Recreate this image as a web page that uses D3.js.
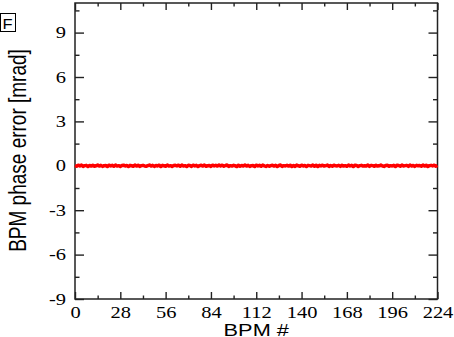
<!DOCTYPE html>
<html>
<head>
<meta charset="utf-8">
<script src="https://cdn.jsdelivr.net/npm/d3@7"></script>
<style>
  body { margin: 0; background: #fff; }
  svg { display: block; }
  .tick-label { font-family: "Liberation Serif", "Times New Roman", serif; font-size: 16px; fill: #000; }
  .sans { font-family: "Liberation Sans", Arial, Helvetica, sans-serif; fill: #000; }
</style>
</head>
<body>
<svg id="chart" width="454" height="337"></svg>
<script>
// Phase error per BPM [mrad], BPM # 0..224
const phaseError = [
  0.02,-0.03,0.04,-0.01,0.05,-0.04,0.01,0.03,-0.05,0.02,-0.02,0.04,-0.03,0.00,0.05,
  -0.02,0.03,-0.04,0.01,0.02,-0.05,0.04,-0.01,0.03,-0.03,0.05,-0.02,0.01,-0.04,0.02,
  0.04,-0.01,0.02,-0.05,0.03,0.00,-0.03,0.05,-0.02,0.04,-0.04,0.01,0.03,-0.01,-0.03,
  0.01,0.05,-0.02,0.03,-0.04,0.02,-0.01,0.04,-0.05,0.03,0.00,-0.03,0.05,-0.02,0.01,
  -0.04,0.02,0.03,-0.01,0.04,-0.03,0.05,-0.02,0.01,-0.05,0.03,0.02,-0.04,0.04,-0.01,
  0.03,-0.05,0.01,0.04,-0.02,0.05,-0.03,0.00,0.02,-0.04,0.04,-0.01,0.03,-0.02,0.05,
  -0.01,0.04,-0.03,0.02,0.05,-0.04,0.01,-0.02,0.03,0.00,-0.05,0.04,-0.03,0.02,-0.01,
  0.05,-0.02,0.03,-0.04,0.01,0.02,-0.05,0.04,-0.01,0.03,-0.03,0.05,0.00,-0.04,0.02,
  -0.03,0.01,0.04,-0.02,0.03,-0.05,0.02,0.05,-0.04,0.01,-0.01,0.03,-0.02,0.04,-0.05,
  0.02,-0.04,0.05,0.00,-0.03,0.04,-0.01,0.02,-0.05,0.03,0.01,-0.02,0.05,-0.03,0.04,
  -0.05,0.03,-0.01,0.04,-0.02,0.01,0.05,-0.04,0.02,-0.03,0.04,0.00,-0.01,0.03,-0.04,
  0.04,-0.02,0.01,-0.03,0.05,-0.01,0.03,-0.05,0.04,0.02,-0.04,0.01,0.03,-0.02,0.00,
  -0.02,0.05,-0.04,0.03,0.01,-0.03,0.04,-0.02,0.00,0.05,-0.01,-0.04,0.02,0.04,-0.03,
  0.01,-0.01,0.03,-0.05,0.04,0.02,-0.03,0.05,-0.02,0.01,0.03,-0.04,0.05,-0.01,0.02,
  -0.04,0.03,0.00,0.02,-0.03,0.05,-0.02,0.04,-0.05,0.01,0.03,-0.01,0.04,-0.03,0.02
];
const bpmNumber = phaseError.map((_, i) => i);

const xDomain = [0, 224];
const yDomain = [-9, 11];
const xTicks = [0, 28, 56, 84, 112, 140, 168, 196, 224];
const xMinorTicks = [14, 42, 70, 98, 126, 154, 182, 210];
const yTicks = [-9, -6, -3, 0, 3, 6, 9];
const yMinorTicks = [-7.5, -4.5, -1.5, 1.5, 4.5, 7.5, 10.5];

const panelLabel = "F";
const xTitle = "BPM #";
const yTitle = "BPM phase error [mrad]";

const svg = d3.select("#chart");
const plotLeft = 75, plotRight = 437.5, plotTop = 3, plotBottom = 299;
const stretch = 1.28;          // horizontal glyph stretch
const axisColor = "#222";

const x = d3.scaleLinear().domain(xDomain).range([plotLeft, plotRight]);
const y = d3.scaleLinear().domain(yDomain).range([plotBottom, plotTop]);

function styleAxis(g) {
  g.attr("font-family", null).attr("font-size", null);
  g.select(".domain").remove();
  g.selectAll(".tick line").attr("stroke", axisColor).attr("stroke-width", 1.4);
}

// bottom axis, labelled
svg.append("g")
  .attr("transform", `translate(0,${plotBottom})`)
  .call(d3.axisBottom(x).tickValues(xTicks).tickSizeInner(-7).tickSizeOuter(0)
        .tickPadding(7.5).tickFormat(d => String(d)))
  .call(styleAxis)
  .call(g => g.selectAll(".tick text")
    .attr("class", "tick-label").attr("fill", null)
    .attr("transform", `scale(${stretch},1)`));
svg.append("g")
  .attr("transform", `translate(0,${plotBottom})`)
  .call(d3.axisBottom(x).tickValues(xMinorTicks).tickSizeInner(-3.5).tickSizeOuter(0).tickFormat(""))
  .call(styleAxis);

// top axis, ticks only
svg.append("g")
  .attr("transform", `translate(0,${plotTop})`)
  .call(d3.axisTop(x).tickValues(xTicks).tickSizeInner(-7).tickSizeOuter(0).tickFormat(""))
  .call(styleAxis);
svg.append("g")
  .attr("transform", `translate(0,${plotTop})`)
  .call(d3.axisTop(x).tickValues(xMinorTicks).tickSizeInner(-3.5).tickSizeOuter(0).tickFormat(""))
  .call(styleAxis);

// left axis, labelled
svg.append("g")
  .attr("transform", `translate(${plotLeft},0)`)
  .call(d3.axisLeft(y).tickValues(yTicks).tickSizeInner(-9).tickSizeOuter(0)
        .tickPadding(0).tickFormat(d => String(d)))
  .call(styleAxis)
  .call(g => g.selectAll(".tick text")
    .attr("class", "tick-label").attr("fill", null)
    .attr("x", -9 / stretch)
    .attr("transform", `scale(${stretch},1)`));
svg.append("g")
  .attr("transform", `translate(${plotLeft},0)`)
  .call(d3.axisLeft(y).tickValues(yMinorTicks).tickSizeInner(-4.5).tickSizeOuter(0).tickFormat(""))
  .call(styleAxis);

// right axis, ticks only
svg.append("g")
  .attr("transform", `translate(${plotRight},0)`)
  .call(d3.axisRight(y).tickValues(yTicks).tickSizeInner(-9).tickSizeOuter(0).tickFormat(""))
  .call(styleAxis);
svg.append("g")
  .attr("transform", `translate(${plotRight},0)`)
  .call(d3.axisRight(y).tickValues(yMinorTicks).tickSizeInner(-4.5).tickSizeOuter(0).tickFormat(""))
  .call(styleAxis);

// frame
svg.append("rect")
  .attr("x", plotLeft).attr("y", plotTop)
  .attr("width", plotRight - plotLeft).attr("height", plotBottom - plotTop)
  .attr("fill", "none").attr("stroke", axisColor).attr("stroke-width", 1.5);

// data line
const line = d3.line().x((d, i) => x(bpmNumber[i])).y(d => y(d));
svg.append("path")
  .datum(phaseError)
  .attr("d", line)
  .attr("fill", "none")
  .attr("stroke", "#ff0000")
  .attr("stroke-width", 3.5)
  .attr("stroke-linejoin", "round");

// axis titles
svg.append("text")
  .attr("class", "sans")
  .attr("transform", `translate(${(plotLeft + plotRight) / 2},335.5) scale(${stretch},1)`)
  .attr("text-anchor", "middle")
  .style("font-size", "17px")
  .text(xTitle);

svg.append("text")
  .attr("class", "sans")
  .attr("transform", `translate(25.5,150.5) scale(${stretch},1) rotate(-90)`)
  .attr("text-anchor", "middle")
  .style("font-size", "19px")
  .text(yTitle);

// panel label
svg.append("rect")
  .attr("x", 0.5).attr("y", 13.5).attr("width", 15).attr("height", 18)
  .attr("fill", "#fff").attr("stroke", "#000").attr("stroke-width", 1);
svg.append("text")
  .attr("class", "sans")
  .attr("transform", `translate(2.5,28.5) scale(1.1,1)`)
  .style("font-size", "15px")
  .text(panelLabel);
</script>
</body>
</html>
